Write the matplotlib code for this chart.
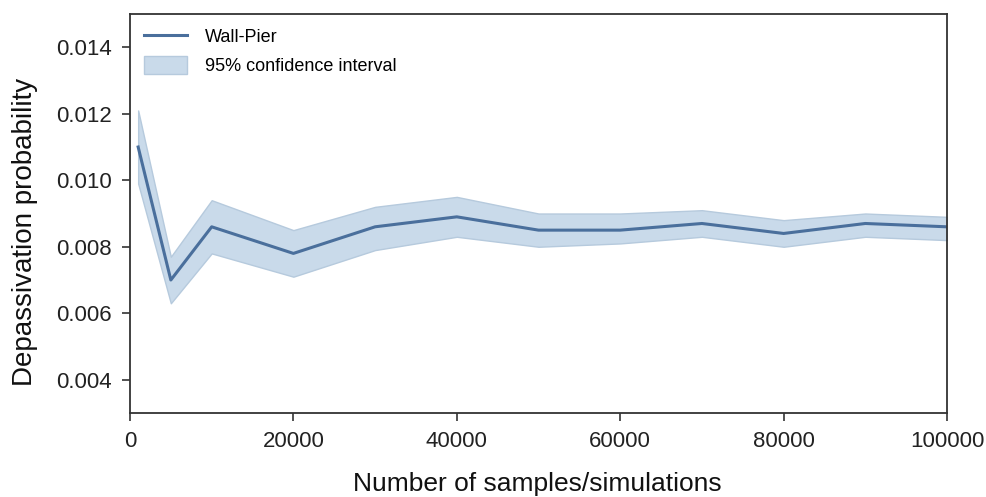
import numpy as np
import matplotlib
matplotlib.use('Agg')
import matplotlib.pyplot as plt

# data
n_samples = [1000, 5000, 10000, 20000, 30000, 40000, 50000, 60000, 70000, 80000, 90000, 100000]
p_mean = [0.0110, 0.0070, 0.0086, 0.0078, 0.0086, 0.0089, 0.0085, 0.0085, 0.0087, 0.0084, 0.0087, 0.0086]
ci_upper = [0.0121, 0.0077, 0.0094, 0.0085, 0.0092, 0.0095, 0.0090, 0.0090, 0.0091, 0.0088, 0.0090, 0.0089]
ci_lower = [0.0099, 0.0063, 0.0078, 0.0071, 0.0079, 0.0083, 0.0080, 0.0081, 0.0083, 0.0080, 0.0083, 0.0082]

plt.rcParams['font.family'] = ['Liberation Sans', 'DejaVu Sans']

fig = plt.figure(figsize=(9.87, 4.97), dpi=100)
ax = fig.add_axes([0.1317, 0.169, 0.8278, 0.8028])

line_col = '#4a6f9c'
ax.fill_between(n_samples, ci_lower, ci_upper, color='#c9daea', edgecolor='#b6cadd',
                linewidth=1, label='95% confidence interval')
ax.plot(n_samples, p_mean, color=line_col, linewidth=2.2, label='Wall-Pier')

ax.set_xlim(0, 100000)
ax.set_ylim(0.003, 0.015)
ax.set_xticks(np.arange(0, 100001, 20000))
ax.set_yticks([0.004, 0.006, 0.008, 0.010, 0.012, 0.014])
ax.set_yticklabels(['0.004', '0.006', '0.008', '0.010', '0.012', '0.014'])
ax.tick_params(axis='both', direction='out', length=6, width=1.2, colors='#333333',
               labelsize=16, labelcolor='#222222', pad=7)

for s in ax.spines.values():
    s.set_color('#333333')
    s.set_linewidth(1.3)

# x label sits very close to the bottom edge in the reference
fig.text(0.544, 0.012, 'Number of samples/simulations', fontsize=19, color='#111111',
         ha='center', va='baseline')
ax.set_ylabel('Depassivation probability', fontsize=20, color='#111111')
ax.yaxis.set_label_coords(-0.113, 0.455)

handles, labels = ax.get_legend_handles_labels()
ax.legend(handles[::-1], labels[::-1], loc='upper left', frameon=False, fontsize=13,
          handlelength=2.4, handleheight=1.1, labelspacing=0.55, borderaxespad=0.35,
          handletextpad=1.0)

fig.savefig('out.png', dpi=100, facecolor='white')
